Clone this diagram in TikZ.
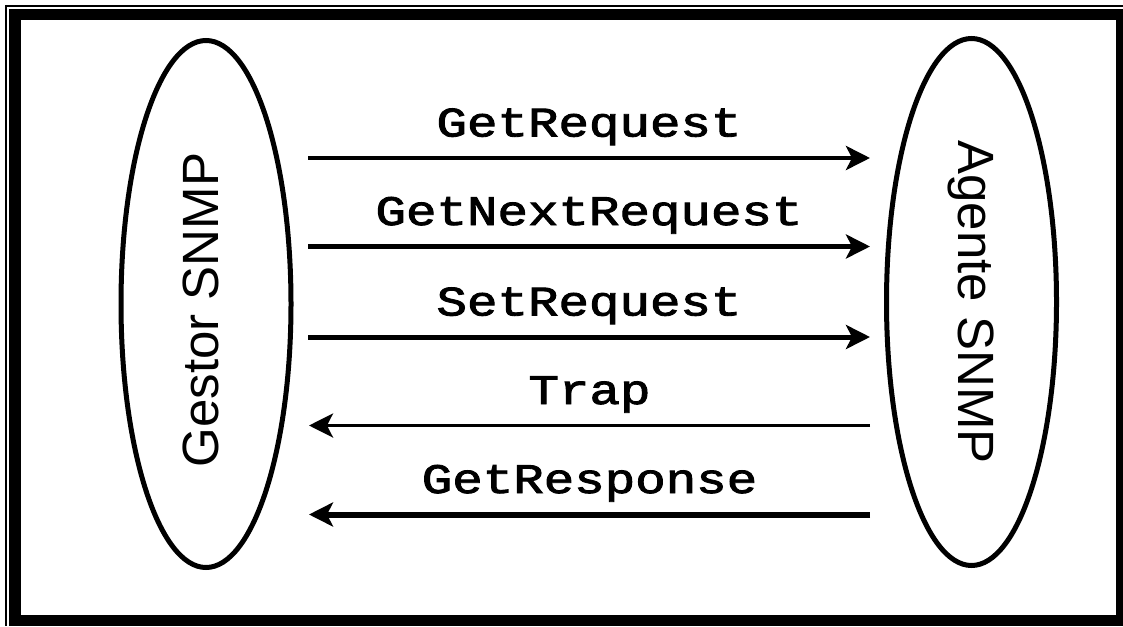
\documentclass[tikz,border=0pt]{standalone}
\usepackage{fontspec}
\setmainfont{Liberation Sans}
\newfontfamily\monob{Liberation Mono}[FakeBold=2]
\usetikzlibrary{shapes.geometric,arrows.meta}
\tikzset{
  peer/.style={draw=black, ellipse, line width=5pt, minimum width=170pt, minimum height=527pt, inner sep=0pt},
  peerlabel/.style={font=\fontsize{51}{60}\selectfont, inner sep=0pt, anchor=base},
  msg/.style={draw=black, -{Stealth[length=24pt, width=24pt, inset=6pt]}},
  msglabel/.style={font=\monob\fontsize{42}{50}\selectfont, inner sep=0pt, anchor=base, yshift=21.5pt}
}
\newcommand{\wide}[1]{\scalebox{1.21}[1]{#1}}
\begin{document}
\begin{tikzpicture}[x=1pt, y=-1pt]
\useasboundingbox (0,0) rectangle (1123,626);
\fill[white] (0,0) rectangle (1123,626);
% frame
\fill[black] (9,9) rectangle (1123,626);
\fill[white] (21,20) rectangle (1116,615);
\draw[line width=1.7pt] (5,5.8) -- (1123,5.8);
\draw[line width=1.7pt] (5.8,5) -- (5.8,626);
% peers
\node[peer] (gestor) at (206,304) {};
\node[peer] (agente) at (971.5,302) {};
\node[peerlabel, rotate=90] (gestorlabel) at (218,310) {Gestor SNMP};
\node[peerlabel, rotate=-90] (agentelabel) at (958,302) {Agente SNMP};
% arrow end points
\coordinate (l1) at (308,158);   \coordinate (r1) at (870,158);
\coordinate (l2) at (308,246.5); \coordinate (r2) at (870,246.5);
\coordinate (l3) at (308,337);   \coordinate (r3) at (870,337);
\coordinate (l4) at (309,425.5); \coordinate (r4) at (870,425.5);
\coordinate (l5) at (309,514.5); \coordinate (r5) at (870,514.5);
\draw[msg, line width=4.5pt] (l1) -- node[msglabel] {\wide{GetRequest}} (r1);
\draw[msg, line width=4.5pt] (l2) -- node[msglabel] {\wide{GetNextRequest}} (r2);
\draw[msg, line width=5pt] (l3) -- node[msglabel] {\wide{SetRequest}} (r3);
\draw[msg, line width=3.5pt] (r4) -- node[msglabel] {\wide{Trap}} (l4);
\draw[msg, line width=6pt] (r5) -- node[msglabel] {\wide{GetResponse}} (l5);
\end{tikzpicture}
\end{document}
